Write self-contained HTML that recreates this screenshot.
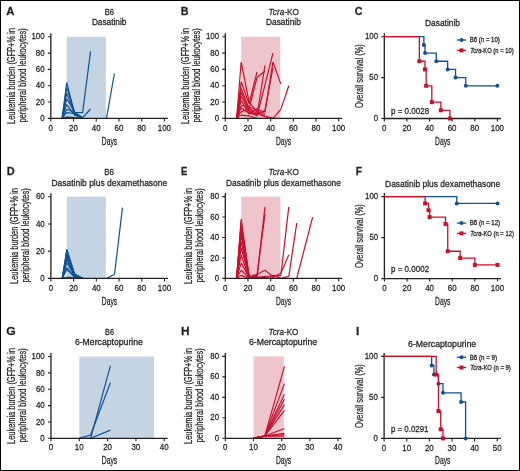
<!DOCTYPE html>
<html><head><meta charset="utf-8"><style>
html,body{margin:0;padding:0;background:#fff;}
svg{display:block;will-change:transform;}
text{font-family:"Liberation Sans", sans-serif;stroke:#231f20;stroke-width:0.26px;}
</style></head><body>
<svg width="520" height="471" viewBox="0 0 520 471" font-family='"Liberation Sans", sans-serif' fill="#231f20">
<rect x="0" y="0" width="520" height="471" fill="#fff"/>
<rect x="66.7" y="36.75" width="39.19" height="81.65" fill="#c5d4e2"/>
<rect x="241.18" y="36.75" width="39.12" height="81.65" fill="#efc5cc"/>
<rect x="66.8" y="196.7" width="39.08" height="81.7" fill="#c5d4e2"/>
<rect x="241.18" y="196.6" width="39.24" height="81.8" fill="#efc5cc"/>
<rect x="79.28" y="356.55" width="74.78" height="81.75" fill="#c5d4e2"/>
<rect x="253.48" y="356.38" width="30.43" height="81.92" fill="#efc5cc"/>
<polyline points="62.16,118.4 66.7,82.47 74.66,113.5 82.61,118.4" fill="none" stroke="#13518f" stroke-width="1.2" stroke-linejoin="bevel"/>
<polyline points="62.16,118.4 66.7,87.37 74.66,112.68 82.61,117.58" fill="none" stroke="#13518f" stroke-width="1.2" stroke-linejoin="bevel"/>
<polyline points="62.16,118.4 66.7,93.09 74.66,114.32 82.61,118.4" fill="none" stroke="#13518f" stroke-width="1.2" stroke-linejoin="bevel"/>
<polyline points="62.16,118.4 66.7,98.8 74.66,111.87 82.61,118.4" fill="none" stroke="#13518f" stroke-width="1.2" stroke-linejoin="bevel"/>
<polyline points="62.16,118.4 66.7,104.52 74.66,115.13 82.61,117.58 90.56,109.01" fill="none" stroke="#13518f" stroke-width="1.2" stroke-linejoin="bevel"/>
<polyline points="62.16,118.4 66.7,109.42 74.66,112.28 82.61,112.68 90.56,51.45" fill="none" stroke="#13518f" stroke-width="1.2" stroke-linejoin="bevel"/>
<polyline points="62.16,118.4 66.7,112.68 74.66,113.5 82.61,118.4" fill="none" stroke="#13518f" stroke-width="1.2" stroke-linejoin="bevel"/>
<polyline points="62.16,118.4 66.7,116.77 74.66,117.58 82.61,118.4" fill="none" stroke="#13518f" stroke-width="1.2" stroke-linejoin="bevel"/>
<polyline points="62.16,118.4 66.7,117.58 74.66,117.99 82.61,118.4" fill="none" stroke="#13518f" stroke-width="1.2" stroke-linejoin="bevel"/>
<polyline points="106.46,118.4 114.42,73.49" fill="none" stroke="#13518f" stroke-width="1.2" stroke-linejoin="bevel"/>
<polyline points="236.64,118.4 241.18,62.06 249.11,102.07 257.05,111.87 264.99,115.95 272.93,118.4" fill="none" stroke="#c8102e" stroke-width="1.2" stroke-linejoin="bevel"/>
<polyline points="236.64,118.4 241.18,81.66 249.11,103.7 257.05,71.86" fill="none" stroke="#c8102e" stroke-width="1.2" stroke-linejoin="bevel"/>
<polyline points="236.64,118.4 241.18,88.19 249.11,108.6 257.05,77.58 264.99,71.04" fill="none" stroke="#c8102e" stroke-width="1.2" stroke-linejoin="bevel"/>
<polyline points="236.64,118.4 241.18,92.27 249.11,110.24 257.05,115.13 264.99,65.33" fill="none" stroke="#c8102e" stroke-width="1.2" stroke-linejoin="bevel"/>
<polyline points="236.64,118.4 241.18,96.35 249.11,111.87 257.05,115.95 264.99,84.92 272.93,53.08" fill="none" stroke="#c8102e" stroke-width="1.2" stroke-linejoin="bevel"/>
<polyline points="236.64,118.4 241.18,105.34 249.11,106.97 257.05,110.24 264.99,111.87 272.93,62.06 280.87,84.11" fill="none" stroke="#c8102e" stroke-width="1.2" stroke-linejoin="bevel"/>
<polyline points="236.64,118.4 241.18,107.79 249.11,113.5 257.05,114.32 264.99,110.24 272.93,67.78" fill="none" stroke="#c8102e" stroke-width="1.2" stroke-linejoin="bevel"/>
<polyline points="236.64,118.4 241.18,111.87 249.11,108.6 257.05,113.5 264.99,116.77 272.93,118.4 280.87,109.42 288.8,85.74" fill="none" stroke="#c8102e" stroke-width="1.2" stroke-linejoin="bevel"/>
<polyline points="236.64,118.4 241.18,100.44 249.11,114.32 257.05,108.6 264.99,114.32" fill="none" stroke="#c8102e" stroke-width="1.2" stroke-linejoin="bevel"/>
<polyline points="236.64,118.4 241.18,115.13 249.11,115.95 257.05,118.4" fill="none" stroke="#c8102e" stroke-width="1.2" stroke-linejoin="bevel"/>
<polyline points="62.26,278.4 66.8,249.12 74.76,274.31 82.71,278.4" fill="none" stroke="#13518f" stroke-width="1.2" stroke-linejoin="bevel"/>
<polyline points="62.26,278.4 66.8,251.17 74.76,275.68 82.71,278.4" fill="none" stroke="#13518f" stroke-width="1.2" stroke-linejoin="bevel"/>
<polyline points="62.26,278.4 66.8,253.89 74.76,274.31 82.71,278.4" fill="none" stroke="#13518f" stroke-width="1.2" stroke-linejoin="bevel"/>
<polyline points="62.26,278.4 66.8,255.93 74.76,277.04 82.71,278.4" fill="none" stroke="#13518f" stroke-width="1.2" stroke-linejoin="bevel"/>
<polyline points="62.26,278.4 66.8,257.97 74.76,275.68 82.71,278.4" fill="none" stroke="#13518f" stroke-width="1.2" stroke-linejoin="bevel"/>
<polyline points="62.26,278.4 66.8,259.34 74.76,277.04 82.71,278.4" fill="none" stroke="#13518f" stroke-width="1.2" stroke-linejoin="bevel"/>
<polyline points="62.26,278.4 66.8,262.74 74.76,275.68 82.71,278.4" fill="none" stroke="#13518f" stroke-width="1.2" stroke-linejoin="bevel"/>
<polyline points="62.26,278.4 66.8,267.51 74.76,277.04 82.71,278.4" fill="none" stroke="#13518f" stroke-width="1.2" stroke-linejoin="bevel"/>
<polyline points="62.26,278.4 66.8,269.55 74.76,277.04 82.71,278.4" fill="none" stroke="#13518f" stroke-width="1.2" stroke-linejoin="bevel"/>
<polyline points="62.26,278.4 66.8,277.04 74.76,277.72 82.71,278.4" fill="none" stroke="#13518f" stroke-width="1.2" stroke-linejoin="bevel"/>
<polyline points="106.56,278.4 114.52,274.31 122.47,207.59" fill="none" stroke="#13518f" stroke-width="1.2" stroke-linejoin="bevel"/>
<polyline points="236.64,278.4 241.18,219.09 249.11,277.38" fill="none" stroke="#c8102e" stroke-width="1.2" stroke-linejoin="bevel"/>
<polyline points="236.64,278.4 241.18,222.16 249.11,276.35" fill="none" stroke="#c8102e" stroke-width="1.2" stroke-linejoin="bevel"/>
<polyline points="236.64,278.4 241.18,225.23 249.11,278.4" fill="none" stroke="#c8102e" stroke-width="1.2" stroke-linejoin="bevel"/>
<polyline points="236.64,278.4 241.18,230.34 249.11,277.38" fill="none" stroke="#c8102e" stroke-width="1.2" stroke-linejoin="bevel"/>
<polyline points="236.64,278.4 241.18,235.45 249.11,275.33" fill="none" stroke="#c8102e" stroke-width="1.2" stroke-linejoin="bevel"/>
<polyline points="236.64,278.4 241.18,241.59 249.11,277.38" fill="none" stroke="#c8102e" stroke-width="1.2" stroke-linejoin="bevel"/>
<polyline points="236.64,278.4 241.18,247.72 249.11,276.35" fill="none" stroke="#c8102e" stroke-width="1.2" stroke-linejoin="bevel"/>
<polyline points="236.64,278.4 241.18,254.88 249.11,278.4" fill="none" stroke="#c8102e" stroke-width="1.2" stroke-linejoin="bevel"/>
<polyline points="236.64,278.4 241.18,263.06 249.11,277.38" fill="none" stroke="#c8102e" stroke-width="1.2" stroke-linejoin="bevel"/>
<polyline points="236.64,278.4 241.18,270.22 249.11,277.89" fill="none" stroke="#c8102e" stroke-width="1.2" stroke-linejoin="bevel"/>
<polyline points="236.64,278.4 241.18,275.33 249.11,278.4" fill="none" stroke="#c8102e" stroke-width="1.2" stroke-linejoin="bevel"/>
<polyline points="249.11,277.38 257.05,276.35 264.99,206.82" fill="none" stroke="#c8102e" stroke-width="1.2" stroke-linejoin="bevel"/>
<polyline points="249.11,278.4 257.05,275.33 264.99,213.98" fill="none" stroke="#c8102e" stroke-width="1.2" stroke-linejoin="bevel"/>
<polyline points="249.11,276.35 257.05,274.31 264.99,270.22 272.93,276.35 280.87,275.33 288.8,206.82" fill="none" stroke="#c8102e" stroke-width="1.2" stroke-linejoin="bevel"/>
<polyline points="249.11,278.4 257.05,277.38 264.99,276.35 272.93,277.38 280.87,273.29 288.8,254.88" fill="none" stroke="#c8102e" stroke-width="1.2" stroke-linejoin="bevel"/>
<polyline points="249.11,277.38 257.05,278.4 264.99,277.38 272.93,275.33 280.87,278.4 288.8,276.35 296.74,223.18" fill="none" stroke="#c8102e" stroke-width="1.2" stroke-linejoin="bevel"/>
<polyline points="296.74,278.4 312.62,217.05" fill="none" stroke="#c8102e" stroke-width="1.2" stroke-linejoin="bevel"/>
<polyline points="79.28,438.3 90.61,435.03 110.43,382.71" fill="none" stroke="#13518f" stroke-width="1.2" stroke-linejoin="bevel"/>
<polyline points="79.28,438.3 90.61,438.3 110.43,365.54" fill="none" stroke="#13518f" stroke-width="1.2" stroke-linejoin="bevel"/>
<polyline points="90.61,438.3 110.43,430.12" fill="none" stroke="#13518f" stroke-width="1.2" stroke-linejoin="bevel"/>
<polyline points="253.48,438.3 264.75,436.05 284.47,366.42" fill="none" stroke="#c8102e" stroke-width="1.2" stroke-linejoin="bevel"/>
<polyline points="253.48,438.3 264.75,436.05 284.47,383.62" fill="none" stroke="#c8102e" stroke-width="1.2" stroke-linejoin="bevel"/>
<polyline points="253.48,438.3 264.75,436.05 284.47,394.27" fill="none" stroke="#c8102e" stroke-width="1.2" stroke-linejoin="bevel"/>
<polyline points="253.48,438.3 264.75,436.05 284.47,399.18" fill="none" stroke="#c8102e" stroke-width="1.2" stroke-linejoin="bevel"/>
<polyline points="253.48,438.3 264.75,436.05 284.47,404.61" fill="none" stroke="#c8102e" stroke-width="1.2" stroke-linejoin="bevel"/>
<polyline points="253.48,438.3 264.75,436.05 284.47,410.45" fill="none" stroke="#c8102e" stroke-width="1.2" stroke-linejoin="bevel"/>
<polyline points="253.48,438.3 264.75,436.05 284.47,428.47" fill="none" stroke="#c8102e" stroke-width="1.2" stroke-linejoin="bevel"/>
<polyline points="253.48,438.3 264.75,436.05 284.47,433.28" fill="none" stroke="#c8102e" stroke-width="1.2" stroke-linejoin="bevel"/>
<polyline points="253.48,438.3 264.75,436.05 284.47,434.61" fill="none" stroke="#c8102e" stroke-width="1.2" stroke-linejoin="bevel"/>
<polyline points="253.48,438.3 264.75,436.05 284.47,436.25" fill="none" stroke="#c8102e" stroke-width="1.2" stroke-linejoin="bevel"/>
<path d="M50.8 33.25V118.4H167.9" fill="none" stroke="#231f20" stroke-width="1.3"/>
<path d="M47.8 118.4H50.8M47.8 102.07H50.8M47.8 85.74H50.8M47.8 69.41H50.8M47.8 53.08H50.8M47.8 36.75H50.8M50.8 118.4V121.4M73.52 118.4V121.4M96.24 118.4V121.4M118.96 118.4V121.4M141.68 118.4V121.4M164.4 118.4V121.4" fill="none" stroke="#231f20" stroke-width="1.1"/>
<text x="40.2" y="121" font-size="8.8" textLength="4.4" lengthAdjust="spacingAndGlyphs">0</text>
<text x="35.8" y="104.67" font-size="8.8" textLength="8.81" lengthAdjust="spacingAndGlyphs">20</text>
<text x="35.8" y="88.34" font-size="8.8" textLength="8.81" lengthAdjust="spacingAndGlyphs">40</text>
<text x="35.8" y="72.01" font-size="8.8" textLength="8.81" lengthAdjust="spacingAndGlyphs">60</text>
<text x="35.8" y="55.68" font-size="8.8" textLength="8.81" lengthAdjust="spacingAndGlyphs">80</text>
<text x="31.39" y="39.35" font-size="8.8" textLength="13.21" lengthAdjust="spacingAndGlyphs">100</text>
<text x="48.55" y="130.5" font-size="8.8" textLength="4.4" lengthAdjust="spacingAndGlyphs">0</text>
<text x="69.07" y="130.5" font-size="8.8" textLength="8.81" lengthAdjust="spacingAndGlyphs">20</text>
<text x="91.79" y="130.5" font-size="8.8" textLength="8.81" lengthAdjust="spacingAndGlyphs">40</text>
<text x="114.51" y="130.5" font-size="8.8" textLength="8.81" lengthAdjust="spacingAndGlyphs">60</text>
<text x="137.23" y="130.5" font-size="8.8" textLength="8.81" lengthAdjust="spacingAndGlyphs">80</text>
<text x="157.75" y="130.5" font-size="8.8" textLength="13.21" lengthAdjust="spacingAndGlyphs">100</text>
<path d="M225.3 33.25V118.4H342.2" fill="none" stroke="#231f20" stroke-width="1.3"/>
<path d="M222.3 118.4H225.3M222.3 102.07H225.3M222.3 85.74H225.3M222.3 69.41H225.3M222.3 53.08H225.3M222.3 36.75H225.3M225.3 118.4V121.4M247.98 118.4V121.4M270.66 118.4V121.4M293.34 118.4V121.4M316.02 118.4V121.4M338.7 118.4V121.4" fill="none" stroke="#231f20" stroke-width="1.1"/>
<text x="214.7" y="121" font-size="8.8" textLength="4.4" lengthAdjust="spacingAndGlyphs">0</text>
<text x="210.3" y="104.67" font-size="8.8" textLength="8.81" lengthAdjust="spacingAndGlyphs">20</text>
<text x="210.3" y="88.34" font-size="8.8" textLength="8.81" lengthAdjust="spacingAndGlyphs">40</text>
<text x="210.3" y="72.01" font-size="8.8" textLength="8.81" lengthAdjust="spacingAndGlyphs">60</text>
<text x="210.3" y="55.68" font-size="8.8" textLength="8.81" lengthAdjust="spacingAndGlyphs">80</text>
<text x="205.89" y="39.35" font-size="8.8" textLength="13.21" lengthAdjust="spacingAndGlyphs">100</text>
<text x="223.05" y="130.5" font-size="8.8" textLength="4.4" lengthAdjust="spacingAndGlyphs">0</text>
<text x="243.53" y="130.5" font-size="8.8" textLength="8.81" lengthAdjust="spacingAndGlyphs">20</text>
<text x="266.21" y="130.5" font-size="8.8" textLength="8.81" lengthAdjust="spacingAndGlyphs">40</text>
<text x="288.89" y="130.5" font-size="8.8" textLength="8.81" lengthAdjust="spacingAndGlyphs">60</text>
<text x="311.57" y="130.5" font-size="8.8" textLength="8.81" lengthAdjust="spacingAndGlyphs">80</text>
<text x="332.05" y="130.5" font-size="8.8" textLength="13.21" lengthAdjust="spacingAndGlyphs">100</text>
<path d="M384.3 33.2V118.5H500.9" fill="none" stroke="#231f20" stroke-width="1.3"/>
<path d="M381.3 118.5H384.3M381.3 77.6H384.3M381.3 36.7H384.3M384.3 118.5V121.5M406.92 118.5V121.5M429.54 118.5V121.5M452.16 118.5V121.5M474.78 118.5V121.5M497.4 118.5V121.5" fill="none" stroke="#231f20" stroke-width="1.1"/>
<text x="373.7" y="121.1" font-size="8.8" textLength="4.4" lengthAdjust="spacingAndGlyphs">0</text>
<text x="369.3" y="80.2" font-size="8.8" textLength="8.81" lengthAdjust="spacingAndGlyphs">50</text>
<text x="364.89" y="39.3" font-size="8.8" textLength="13.21" lengthAdjust="spacingAndGlyphs">100</text>
<text x="382.05" y="130.6" font-size="8.8" textLength="4.4" lengthAdjust="spacingAndGlyphs">0</text>
<text x="402.47" y="130.6" font-size="8.8" textLength="8.81" lengthAdjust="spacingAndGlyphs">20</text>
<text x="425.09" y="130.6" font-size="8.8" textLength="8.81" lengthAdjust="spacingAndGlyphs">40</text>
<text x="447.71" y="130.6" font-size="8.8" textLength="8.81" lengthAdjust="spacingAndGlyphs">60</text>
<text x="470.33" y="130.6" font-size="8.8" textLength="8.81" lengthAdjust="spacingAndGlyphs">80</text>
<text x="490.75" y="130.6" font-size="8.8" textLength="13.21" lengthAdjust="spacingAndGlyphs">100</text>
<path d="M50.9 193.2V278.4H168" fill="none" stroke="#231f20" stroke-width="1.3"/>
<path d="M47.9 278.4H50.9M47.9 251.17H50.9M47.9 223.93H50.9M47.9 196.7H50.9M50.9 278.4V281.4M73.62 278.4V281.4M96.34 278.4V281.4M119.06 278.4V281.4M141.78 278.4V281.4M164.5 278.4V281.4" fill="none" stroke="#231f20" stroke-width="1.1"/>
<text x="40.3" y="281" font-size="8.8" textLength="4.4" lengthAdjust="spacingAndGlyphs">0</text>
<text x="35.9" y="253.77" font-size="8.8" textLength="8.81" lengthAdjust="spacingAndGlyphs">20</text>
<text x="35.9" y="226.53" font-size="8.8" textLength="8.81" lengthAdjust="spacingAndGlyphs">40</text>
<text x="35.9" y="199.3" font-size="8.8" textLength="8.81" lengthAdjust="spacingAndGlyphs">60</text>
<text x="48.65" y="290.5" font-size="8.8" textLength="4.4" lengthAdjust="spacingAndGlyphs">0</text>
<text x="69.17" y="290.5" font-size="8.8" textLength="8.81" lengthAdjust="spacingAndGlyphs">20</text>
<text x="91.89" y="290.5" font-size="8.8" textLength="8.81" lengthAdjust="spacingAndGlyphs">40</text>
<text x="114.61" y="290.5" font-size="8.8" textLength="8.81" lengthAdjust="spacingAndGlyphs">60</text>
<text x="137.33" y="290.5" font-size="8.8" textLength="8.81" lengthAdjust="spacingAndGlyphs">80</text>
<text x="157.85" y="290.5" font-size="8.8" textLength="13.21" lengthAdjust="spacingAndGlyphs">100</text>
<path d="M225.3 193.1V278.4H342.2" fill="none" stroke="#231f20" stroke-width="1.3"/>
<path d="M222.3 278.4H225.3M222.3 257.95H225.3M222.3 237.5H225.3M222.3 217.05H225.3M222.3 196.6H225.3M225.3 278.4V281.4M247.98 278.4V281.4M270.66 278.4V281.4M293.34 278.4V281.4M316.02 278.4V281.4M338.7 278.4V281.4" fill="none" stroke="#231f20" stroke-width="1.1"/>
<text x="214.7" y="281" font-size="8.8" textLength="4.4" lengthAdjust="spacingAndGlyphs">0</text>
<text x="210.3" y="260.55" font-size="8.8" textLength="8.81" lengthAdjust="spacingAndGlyphs">20</text>
<text x="210.3" y="240.1" font-size="8.8" textLength="8.81" lengthAdjust="spacingAndGlyphs">40</text>
<text x="210.3" y="219.65" font-size="8.8" textLength="8.81" lengthAdjust="spacingAndGlyphs">60</text>
<text x="210.3" y="199.2" font-size="8.8" textLength="8.81" lengthAdjust="spacingAndGlyphs">80</text>
<text x="223.05" y="290.5" font-size="8.8" textLength="4.4" lengthAdjust="spacingAndGlyphs">0</text>
<text x="243.53" y="290.5" font-size="8.8" textLength="8.81" lengthAdjust="spacingAndGlyphs">20</text>
<text x="266.21" y="290.5" font-size="8.8" textLength="8.81" lengthAdjust="spacingAndGlyphs">40</text>
<text x="288.89" y="290.5" font-size="8.8" textLength="8.81" lengthAdjust="spacingAndGlyphs">60</text>
<text x="311.57" y="290.5" font-size="8.8" textLength="8.81" lengthAdjust="spacingAndGlyphs">80</text>
<text x="332.05" y="290.5" font-size="8.8" textLength="13.21" lengthAdjust="spacingAndGlyphs">100</text>
<path d="M384.4 193.1V278.6H501" fill="none" stroke="#231f20" stroke-width="1.3"/>
<path d="M381.4 278.6H384.4M381.4 237.6H384.4M381.4 196.6H384.4M384.4 278.6V281.6M407.02 278.6V281.6M429.64 278.6V281.6M452.26 278.6V281.6M474.88 278.6V281.6M497.5 278.6V281.6" fill="none" stroke="#231f20" stroke-width="1.1"/>
<text x="373.8" y="281.2" font-size="8.8" textLength="4.4" lengthAdjust="spacingAndGlyphs">0</text>
<text x="369.4" y="240.2" font-size="8.8" textLength="8.81" lengthAdjust="spacingAndGlyphs">50</text>
<text x="364.99" y="199.2" font-size="8.8" textLength="13.21" lengthAdjust="spacingAndGlyphs">100</text>
<text x="382.15" y="290.7" font-size="8.8" textLength="4.4" lengthAdjust="spacingAndGlyphs">0</text>
<text x="402.57" y="290.7" font-size="8.8" textLength="8.81" lengthAdjust="spacingAndGlyphs">20</text>
<text x="425.19" y="290.7" font-size="8.8" textLength="8.81" lengthAdjust="spacingAndGlyphs">40</text>
<text x="447.81" y="290.7" font-size="8.8" textLength="8.81" lengthAdjust="spacingAndGlyphs">60</text>
<text x="470.43" y="290.7" font-size="8.8" textLength="8.81" lengthAdjust="spacingAndGlyphs">80</text>
<text x="490.85" y="290.7" font-size="8.8" textLength="13.21" lengthAdjust="spacingAndGlyphs">100</text>
<path d="M50.95 353.05V438.3H167.75" fill="none" stroke="#231f20" stroke-width="1.3"/>
<path d="M47.95 438.3H50.95M47.95 421.95H50.95M47.95 405.6H50.95M47.95 389.25H50.95M47.95 372.9H50.95M47.95 356.55H50.95M50.95 438.3V441.3M79.28 438.3V441.3M107.6 438.3V441.3M135.93 438.3V441.3M164.25 438.3V441.3" fill="none" stroke="#231f20" stroke-width="1.1"/>
<text x="40.35" y="440.9" font-size="8.8" textLength="4.4" lengthAdjust="spacingAndGlyphs">0</text>
<text x="35.95" y="424.55" font-size="8.8" textLength="8.81" lengthAdjust="spacingAndGlyphs">20</text>
<text x="35.95" y="408.2" font-size="8.8" textLength="8.81" lengthAdjust="spacingAndGlyphs">40</text>
<text x="35.95" y="391.85" font-size="8.8" textLength="8.81" lengthAdjust="spacingAndGlyphs">60</text>
<text x="35.95" y="375.5" font-size="8.8" textLength="8.81" lengthAdjust="spacingAndGlyphs">80</text>
<text x="31.54" y="359.15" font-size="8.8" textLength="13.21" lengthAdjust="spacingAndGlyphs">100</text>
<text x="48.7" y="450.4" font-size="8.8" textLength="4.4" lengthAdjust="spacingAndGlyphs">0</text>
<text x="74.82" y="450.4" font-size="8.8" textLength="8.81" lengthAdjust="spacingAndGlyphs">10</text>
<text x="103.15" y="450.4" font-size="8.8" textLength="8.81" lengthAdjust="spacingAndGlyphs">20</text>
<text x="131.47" y="450.4" font-size="8.8" textLength="8.81" lengthAdjust="spacingAndGlyphs">30</text>
<text x="159.8" y="450.4" font-size="8.8" textLength="8.81" lengthAdjust="spacingAndGlyphs">40</text>
<path d="M225.3 352.88V438.3H341.5" fill="none" stroke="#231f20" stroke-width="1.3"/>
<path d="M222.3 438.3H225.3M222.3 417.82H225.3M222.3 397.34H225.3M222.3 376.86H225.3M222.3 356.38H225.3M225.3 438.3V441.3M253.48 438.3V441.3M281.65 438.3V441.3M309.82 438.3V441.3M338 438.3V441.3" fill="none" stroke="#231f20" stroke-width="1.1"/>
<text x="214.7" y="440.9" font-size="8.8" textLength="4.4" lengthAdjust="spacingAndGlyphs">0</text>
<text x="210.3" y="420.42" font-size="8.8" textLength="8.81" lengthAdjust="spacingAndGlyphs">20</text>
<text x="210.3" y="399.94" font-size="8.8" textLength="8.81" lengthAdjust="spacingAndGlyphs">40</text>
<text x="210.3" y="379.46" font-size="8.8" textLength="8.81" lengthAdjust="spacingAndGlyphs">60</text>
<text x="210.3" y="358.98" font-size="8.8" textLength="8.81" lengthAdjust="spacingAndGlyphs">80</text>
<text x="223.05" y="450.4" font-size="8.8" textLength="4.4" lengthAdjust="spacingAndGlyphs">0</text>
<text x="249.02" y="450.4" font-size="8.8" textLength="8.81" lengthAdjust="spacingAndGlyphs">10</text>
<text x="277.2" y="450.4" font-size="8.8" textLength="8.81" lengthAdjust="spacingAndGlyphs">20</text>
<text x="305.37" y="450.4" font-size="8.8" textLength="8.81" lengthAdjust="spacingAndGlyphs">30</text>
<text x="333.55" y="450.4" font-size="8.8" textLength="8.81" lengthAdjust="spacingAndGlyphs">40</text>
<path d="M384.1 352.9V438.4H500.8" fill="none" stroke="#231f20" stroke-width="1.3"/>
<path d="M381.1 438.4H384.1M381.1 397.4H384.1M381.1 356.4H384.1M384.1 438.4V441.4M406.74 438.4V441.4M429.38 438.4V441.4M452.02 438.4V441.4M474.66 438.4V441.4M497.3 438.4V441.4" fill="none" stroke="#231f20" stroke-width="1.1"/>
<text x="373.5" y="441" font-size="8.8" textLength="4.4" lengthAdjust="spacingAndGlyphs">0</text>
<text x="369.1" y="400" font-size="8.8" textLength="8.81" lengthAdjust="spacingAndGlyphs">50</text>
<text x="364.69" y="359" font-size="8.8" textLength="13.21" lengthAdjust="spacingAndGlyphs">100</text>
<text x="381.85" y="450.5" font-size="8.8" textLength="4.4" lengthAdjust="spacingAndGlyphs">0</text>
<text x="402.29" y="450.5" font-size="8.8" textLength="8.81" lengthAdjust="spacingAndGlyphs">10</text>
<text x="424.93" y="450.5" font-size="8.8" textLength="8.81" lengthAdjust="spacingAndGlyphs">20</text>
<text x="447.57" y="450.5" font-size="8.8" textLength="8.81" lengthAdjust="spacingAndGlyphs">30</text>
<text x="470.21" y="450.5" font-size="8.8" textLength="8.81" lengthAdjust="spacingAndGlyphs">40</text>
<text x="492.85" y="450.5" font-size="8.8" textLength="8.81" lengthAdjust="spacingAndGlyphs">50</text>
<path d="M384.3 36.7H423.88V44.88H425.02V53.06H436.33V61.24H447.64V69.42H455.55V77.6H465.73V85.78H497.4" fill="none" stroke="#13518f" stroke-width="1.3"/>
<circle cx="423.88" cy="44.88" r="2" fill="#13518f"/>
<circle cx="425.02" cy="53.06" r="2" fill="#13518f"/>
<circle cx="436.33" cy="61.24" r="2" fill="#13518f"/>
<circle cx="447.64" cy="69.42" r="2" fill="#13518f"/>
<circle cx="455.55" cy="77.6" r="2" fill="#13518f"/>
<circle cx="465.73" cy="85.78" r="2" fill="#13518f"/>
<circle cx="497.4" cy="85.78" r="2" fill="#13518f"/>
<path d="M384.3 36.7H419.36V61.24H425.02V69.42H426.15V85.78H431.8V102.14H440.85V110.32H449.9V118.5" fill="none" stroke="#c8102e" stroke-width="1.3"/>
<rect x="417.36" y="59.24" width="4" height="4" fill="#c8102e"/>
<rect x="423.02" y="67.42" width="4" height="4" fill="#c8102e"/>
<rect x="424.15" y="83.78" width="4" height="4" fill="#c8102e"/>
<rect x="429.8" y="100.14" width="4" height="4" fill="#c8102e"/>
<rect x="438.85" y="108.32" width="4" height="4" fill="#c8102e"/>
<rect x="447.9" y="116.5" width="4" height="4" fill="#c8102e"/>
<path d="M384.4 196.6H456.78V203.43H497.5" fill="none" stroke="#13518f" stroke-width="1.3"/>
<circle cx="456.78" cy="203.43" r="2" fill="#13518f"/>
<circle cx="497.5" cy="203.43" r="2" fill="#13518f"/>
<path d="M384.4 196.6H425.12V203.43H428.51V210.27H429.64V217.1H445.47V223.93H447.74V251.27H460.18V258.1H474.88V264.93H497.5" fill="none" stroke="#c8102e" stroke-width="1.3"/>
<rect x="423.12" y="201.43" width="4" height="4" fill="#c8102e"/>
<rect x="426.51" y="208.27" width="4" height="4" fill="#c8102e"/>
<rect x="427.64" y="215.1" width="4" height="4" fill="#c8102e"/>
<rect x="443.47" y="221.93" width="4" height="4" fill="#c8102e"/>
<rect x="445.74" y="249.27" width="4" height="4" fill="#c8102e"/>
<rect x="458.18" y="256.1" width="4" height="4" fill="#c8102e"/>
<rect x="472.88" y="262.93" width="4" height="4" fill="#c8102e"/>
<rect x="495.5" y="262.93" width="4" height="4" fill="#c8102e"/>
<path d="M384.1 356.4H431.64V365.5H433.91V374.6H438.44V383.71H442.96V392.81H461.08V401.99H465.6V438.4" fill="none" stroke="#13518f" stroke-width="1.3"/>
<circle cx="431.64" cy="365.5" r="2" fill="#13518f"/>
<circle cx="433.91" cy="374.6" r="2" fill="#13518f"/>
<circle cx="438.44" cy="383.71" r="2" fill="#13518f"/>
<circle cx="442.96" cy="392.81" r="2" fill="#13518f"/>
<circle cx="461.08" cy="401.99" r="2" fill="#13518f"/>
<circle cx="465.6" cy="438.4" r="2" fill="#13518f"/>
<path d="M384.1 356.4H436.17V374.6H438.44V411.09H440.7V429.3H442.96V438.4" fill="none" stroke="#c8102e" stroke-width="1.3"/>
<rect x="434.17" y="372.6" width="4" height="4" fill="#c8102e"/>
<rect x="436.44" y="409.09" width="4" height="4" fill="#c8102e"/>
<rect x="438.7" y="427.3" width="4" height="4" fill="#c8102e"/>
<rect x="440.96" y="436.4" width="4" height="4" fill="#c8102e"/>
<text x="6.3" y="14.8" font-size="11.8" font-weight="bold" stroke-width="0.4" textLength="8.14" lengthAdjust="spacingAndGlyphs">A</text>
<text x="180.8" y="14.8" font-size="11.8" font-weight="bold" stroke-width="0.4" textLength="7.77" lengthAdjust="spacingAndGlyphs">B</text>
<text x="354.8" y="14.9" font-size="11.8" font-weight="bold" stroke-width="0.4" textLength="7.76" lengthAdjust="spacingAndGlyphs">C</text>
<text x="6.7" y="174.8" font-size="11.8" font-weight="bold" stroke-width="0.4" textLength="7.95" lengthAdjust="spacingAndGlyphs">D</text>
<text x="181.05" y="174.8" font-size="11.8" font-weight="bold" stroke-width="0.4" textLength="6.34" lengthAdjust="spacingAndGlyphs">E</text>
<text x="355.7" y="174.7" font-size="11.8" font-weight="bold" stroke-width="0.4" textLength="6.28" lengthAdjust="spacingAndGlyphs">F</text>
<text x="6.3" y="334.8" font-size="11.8" font-weight="bold" stroke-width="0.4" textLength="9.48" lengthAdjust="spacingAndGlyphs">G</text>
<text x="181.05" y="334.7" font-size="11.8" font-weight="bold" stroke-width="0.4" textLength="8.57" lengthAdjust="spacingAndGlyphs">H</text>
<text x="355.9" y="334.7" font-size="11.8" font-weight="bold" stroke-width="0.4">I</text>
<text x="104.8" y="15.3" font-size="8.5" textLength="9.26" lengthAdjust="spacingAndGlyphs">B6</text>
<text x="91.9" y="25.4" font-size="8.5" textLength="34.53" lengthAdjust="spacingAndGlyphs">Dasatinib</text>
<text x="268.6" y="15.4" font-size="8.5" textLength="30.23" lengthAdjust="spacingAndGlyphs"><tspan font-style="italic">Tcra</tspan>-KO</text>
<text x="266" y="25.4" font-size="8.5" textLength="34.83" lengthAdjust="spacingAndGlyphs">Dasatinib</text>
<text x="425" y="26.3" font-size="8.5" textLength="34.93" lengthAdjust="spacingAndGlyphs">Dasatinib</text>
<text x="104.25" y="175.4" font-size="8.5" textLength="9.74" lengthAdjust="spacingAndGlyphs">B6</text>
<text x="51.5" y="185.6" font-size="8.5" textLength="115.73" lengthAdjust="spacingAndGlyphs">Dasatinib plus dexamethasone</text>
<text x="268.6" y="175.4" font-size="8.5" textLength="30.23" lengthAdjust="spacingAndGlyphs"><tspan font-style="italic">Tcra</tspan>-KO</text>
<text x="226.06" y="185.8" font-size="8.5" textLength="114.92" lengthAdjust="spacingAndGlyphs">Dasatinib plus dexamethasone</text>
<text x="385.1" y="186.6" font-size="8.5" textLength="115.13" lengthAdjust="spacingAndGlyphs">Dasatinib plus dexamethasone</text>
<text x="105.1" y="334.8" font-size="8.5" textLength="8.96" lengthAdjust="spacingAndGlyphs">B6</text>
<text x="74.9" y="344.7" font-size="8.5" textLength="68.02" lengthAdjust="spacingAndGlyphs">6-Mercaptopurine</text>
<text x="268.5" y="334.9" font-size="8.5" textLength="29.93" lengthAdjust="spacingAndGlyphs"><tspan font-style="italic">Tcra</tspan>-KO</text>
<text x="249" y="344.8" font-size="8.5" textLength="68.22" lengthAdjust="spacingAndGlyphs">6-Mercaptopurine</text>
<text x="408.1" y="346.6" font-size="8.5" textLength="68.12" lengthAdjust="spacingAndGlyphs">6-Mercaptopurine</text>
<text transform="translate(14.6 123.9) rotate(-90)" x="0" y="0" font-size="10.4" stroke-width="0.18" textLength="95.74" lengthAdjust="spacingAndGlyphs">Leukemia burden (GFP+% in</text>
<text transform="translate(25.9 122.6) rotate(-90)" x="0" y="0" font-size="10.4" stroke-width="0.18" textLength="94.43" lengthAdjust="spacingAndGlyphs">peripheral blood leukocytes)</text>
<text transform="translate(188.6 123.9) rotate(-90)" x="0" y="0" font-size="10.4" stroke-width="0.18" textLength="95.74" lengthAdjust="spacingAndGlyphs">Leukemia burden (GFP+% in</text>
<text transform="translate(199.5 122.6) rotate(-90)" x="0" y="0" font-size="10.4" stroke-width="0.18" textLength="94.43" lengthAdjust="spacingAndGlyphs">peripheral blood leukocytes)</text>
<text transform="translate(18.1 283.9) rotate(-90)" x="0" y="0" font-size="10.4" stroke-width="0.18" textLength="95.74" lengthAdjust="spacingAndGlyphs">Leukemia burden (GFP+% in</text>
<text transform="translate(29.1 282.6) rotate(-90)" x="0" y="0" font-size="10.4" stroke-width="0.18" textLength="94.43" lengthAdjust="spacingAndGlyphs">peripheral blood leukocytes)</text>
<text transform="translate(192.3 283.9) rotate(-90)" x="0" y="0" font-size="10.4" stroke-width="0.18" textLength="95.74" lengthAdjust="spacingAndGlyphs">Leukemia burden (GFP+% in</text>
<text transform="translate(203.2 282.6) rotate(-90)" x="0" y="0" font-size="10.4" stroke-width="0.18" textLength="94.43" lengthAdjust="spacingAndGlyphs">peripheral blood leukocytes)</text>
<text transform="translate(14.6 443.9) rotate(-90)" x="0" y="0" font-size="10.4" stroke-width="0.18" textLength="95.74" lengthAdjust="spacingAndGlyphs">Leukemia burden (GFP+% in</text>
<text transform="translate(25.9 442.6) rotate(-90)" x="0" y="0" font-size="10.4" stroke-width="0.18" textLength="94.43" lengthAdjust="spacingAndGlyphs">peripheral blood leukocytes)</text>
<text transform="translate(192.3 443.9) rotate(-90)" x="0" y="0" font-size="10.4" stroke-width="0.18" textLength="95.74" lengthAdjust="spacingAndGlyphs">Leukemia burden (GFP+% in</text>
<text transform="translate(203.2 442.6) rotate(-90)" x="0" y="0" font-size="10.4" stroke-width="0.18" textLength="94.43" lengthAdjust="spacingAndGlyphs">peripheral blood leukocytes)</text>
<text transform="translate(363.2 108.1) rotate(-90)" x="0" y="0" font-size="10.4" stroke-width="0.18" textLength="63.93" lengthAdjust="spacingAndGlyphs">Overall survival (%)</text>
<text transform="translate(363.2 268.1) rotate(-90)" x="0" y="0" font-size="10.4" stroke-width="0.18" textLength="63.93" lengthAdjust="spacingAndGlyphs">Overall survival (%)</text>
<text transform="translate(363.2 428.1) rotate(-90)" x="0" y="0" font-size="10.4" stroke-width="0.18" textLength="63.93" lengthAdjust="spacingAndGlyphs">Overall survival (%)</text>
<text x="101.8" y="144.5" font-size="10.3" stroke-width="0.25" textLength="15.3" lengthAdjust="spacingAndGlyphs">Days</text>
<text x="275.9" y="144.5" font-size="10.3" stroke-width="0.25" textLength="15.3" lengthAdjust="spacingAndGlyphs">Days</text>
<text x="435.1" y="144.5" font-size="10.3" stroke-width="0.25" textLength="15.3" lengthAdjust="spacingAndGlyphs">Days</text>
<text x="101.8" y="304.5" font-size="10.3" stroke-width="0.25" textLength="15.3" lengthAdjust="spacingAndGlyphs">Days</text>
<text x="275.9" y="304.5" font-size="10.3" stroke-width="0.25" textLength="15.3" lengthAdjust="spacingAndGlyphs">Days</text>
<text x="435.1" y="304.5" font-size="10.3" stroke-width="0.25" textLength="15.3" lengthAdjust="spacingAndGlyphs">Days</text>
<text x="101.8" y="464.2" font-size="10.3" stroke-width="0.25" textLength="15.3" lengthAdjust="spacingAndGlyphs">Days</text>
<text x="275.9" y="464.2" font-size="10.3" stroke-width="0.25" textLength="15.3" lengthAdjust="spacingAndGlyphs">Days</text>
<text x="435.1" y="464.2" font-size="10.3" stroke-width="0.25" textLength="15.3" lengthAdjust="spacingAndGlyphs">Days</text>
<text x="391" y="113.7" font-size="8.8" textLength="38.1" lengthAdjust="spacingAndGlyphs">p = 0.0028</text>
<text x="391" y="272.2" font-size="8.8" textLength="38.1" lengthAdjust="spacingAndGlyphs">p = 0.0002</text>
<text x="391" y="432.4" font-size="8.8" textLength="37.5" lengthAdjust="spacingAndGlyphs">p = 0.0291</text>
<path d="M456.9 40h9.2" stroke="#13518f" stroke-width="1.3"/>
<path d="M456.9 50.4h9.2" stroke="#c8102e" stroke-width="1.3"/>
<circle cx="461.5" cy="40" r="2" fill="#13518f"/>
<rect x="459.5" y="48.4" width="4" height="4" fill="#c8102e"/>
<text x="469.75" y="42.3" font-size="6.4" stroke-width="0.1" textLength="30.12" lengthAdjust="spacingAndGlyphs">B6 (n = 10)</text>
<text x="470.25" y="52.7" font-size="6.4" stroke-width="0.1" textLength="43.37" lengthAdjust="spacingAndGlyphs"><tspan font-style="italic">Tcra</tspan>-KO (n = 10)</text>
<path d="M456.9 223.1h9.2" stroke="#13518f" stroke-width="1.3"/>
<path d="M456.9 233.4h9.2" stroke="#c8102e" stroke-width="1.3"/>
<circle cx="461.5" cy="223.1" r="2" fill="#13518f"/>
<rect x="459.5" y="231.4" width="4" height="4" fill="#c8102e"/>
<text x="469.75" y="225.4" font-size="6.4" stroke-width="0.1" textLength="30.37" lengthAdjust="spacingAndGlyphs">B6 (n = 12)</text>
<text x="470.25" y="235.7" font-size="6.4" stroke-width="0.1" textLength="43.62" lengthAdjust="spacingAndGlyphs"><tspan font-style="italic">Tcra</tspan>-KO (n = 12)</text>
<path d="M456.9 357.25h9.2" stroke="#13518f" stroke-width="1.3"/>
<path d="M456.9 367.5h9.2" stroke="#c8102e" stroke-width="1.3"/>
<circle cx="461.5" cy="357.25" r="2" fill="#13518f"/>
<rect x="459.5" y="365.5" width="4" height="4" fill="#c8102e"/>
<text x="469.75" y="359.55" font-size="6.4" stroke-width="0.1" textLength="27.27" lengthAdjust="spacingAndGlyphs">B6 (n = 9)</text>
<text x="470.25" y="369.8" font-size="6.4" stroke-width="0.1" textLength="40.47" lengthAdjust="spacingAndGlyphs"><tspan font-style="italic">Tcra</tspan>-KO (n = 9)</text>
<rect x="0.5" y="0.5" width="519" height="470" fill="none" stroke="#000" stroke-width="1"/>
</svg>
</body></html>
